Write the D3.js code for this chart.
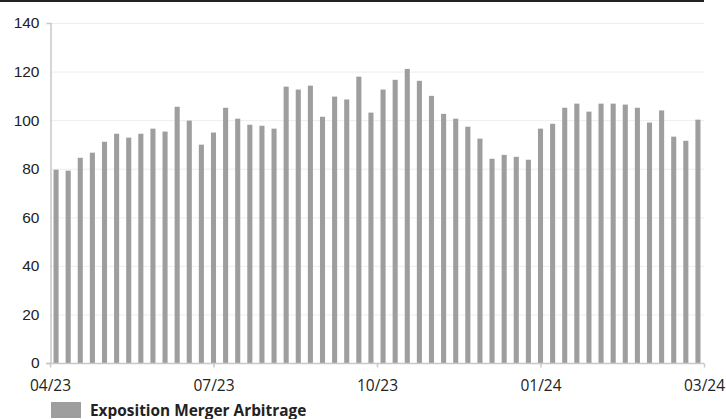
<!DOCTYPE html>
<html lang="en">
<head>
	<meta charset="UTF-8">
	<title>Exposition Merger Arbitrage</title>
	<script src="https://cdn.jsdelivr.net/npm/d3@7/dist/d3.min.js"></script>
	<style>
		html,body{margin:0;padding:0;background:#fff;}
		svg{display:block;}
		.ylab{font-family:"Liberation Sans",Arial,sans-serif;font-size:15.5px;fill:#222;}
		.xlab{font-family:"Open Sans",sans-serif;font-size:15.5px;fill:#222;}
		.legend{font-family:"Open Sans",sans-serif;font-size:15.4px;font-weight:bold;fill:#222;}
	</style>
</head>
<body>
	<svg id="svg" width="726" height="419"></svg>
	<script>
		// weekly exposure, 04/23 .. 03/24
		var values = [79.6, 79.2, 84.5, 86.6, 91.1, 94.4, 92.8, 94.4, 96.5, 95.3,
			105.5, 99.8, 89.9, 94.9, 105.1, 100.6, 98.1, 97.7, 96.5, 113.8,
			112.6, 114.2, 101.4, 109.7, 108.5, 117.9, 103.1, 112.6, 116.6, 121.1,
			116.2, 110.0, 102.6, 100.6, 97.3, 92.4, 84.1, 85.7, 84.9, 83.7,
			96.5, 98.5, 105.1, 106.8, 103.5, 106.8, 106.8, 106.4, 105.1, 99.0,
			104.0, 93.2, 91.5, 100.2];
		var xTickLabels = ["04/23", "07/23", "10/23", "01/24", "03/24"];
		var yTicks = [0, 20, 40, 60, 80, 100, 120, 140];
		var seriesName = "Exposition Merger Arbitrage";

		var svg = d3.select("svg"),
			mLeft = 50, mRight = 704, mTop = 23, mBottom = 363;

		var x = d3.scaleBand()
			.domain(d3.range(values.length))
			.range([mLeft, mRight])
			.paddingInner(0.58)
			.paddingOuter(0.29);
		var xt = d3.scalePoint()
			.domain(xTickLabels)
			.range([mLeft, mRight]);
		var y = d3.scaleLinear()
			.domain([0, 140])
			.range([mBottom, mTop]);

		// top rule
		svg.append("rect")
			.attr("x", 0).attr("y", 0)
			.attr("width", mRight).attr("height", 2)
			.attr("fill", "#222");

		// grid
		svg.append("g").selectAll("line")
			.data(yTicks.slice(1))
			.enter().append("line")
			.attr("x1", mLeft).attr("x2", mRight)
			.attr("y1", d => y(d) + 0.5).attr("y2", d => y(d) + 0.5)
			.attr("stroke", "#eeeeee");

		// bars
		svg.append("g").selectAll("rect")
			.data(values)
			.enter().append("rect")
			.attr("x", (d, i) => x(i))
			.attr("width", x.bandwidth())
			.attr("y", d => y(d))
			.attr("height", d => y(0) - y(d))
			.attr("fill", "#9e9e9e");

		// y axis
		var ya = svg.append("g")
			.attr("transform", "translate(" + (mLeft + 0.5) + ",0)")
			.call(d3.axisLeft(y).tickValues(yTicks).tickSize(0).tickSizeOuter(4).tickPadding(11));
		ya.select(".domain").attr("stroke", "#c8c8c8").attr("stroke-width", 1.5);
		ya.selectAll("text").attr("class", "ylab").attr("font-family", null).attr("font-size", null).attr("fill", null);

		// x axis
		var xa = svg.append("g")
			.attr("transform", "translate(0," + (mBottom + 0.5) + ")")
			.call(d3.axisBottom(xt).tickSize(4).tickSizeOuter(0).tickPadding(12));
		xa.select(".domain").attr("d", "M" + (mLeft - 4) + ",0H" + mRight).attr("stroke", "#c8c8c8").attr("stroke-width", 1.5);
		xa.selectAll(".tick line").attr("stroke", "#c8c8c8").attr("stroke-width", 1.5);
		xa.selectAll("text").attr("class", "xlab").attr("font-family", null).attr("font-size", null).attr("fill", null);

		// legend
		var lg = svg.append("g").attr("transform", "translate(51,402)");
		lg.append("rect").attr("width", 30).attr("height", 16).attr("fill", "#9e9e9e");
		lg.append("text").attr("class", "legend").attr("x", 39).attr("y", 14).text(seriesName);
	</script>
</body>
</html>
